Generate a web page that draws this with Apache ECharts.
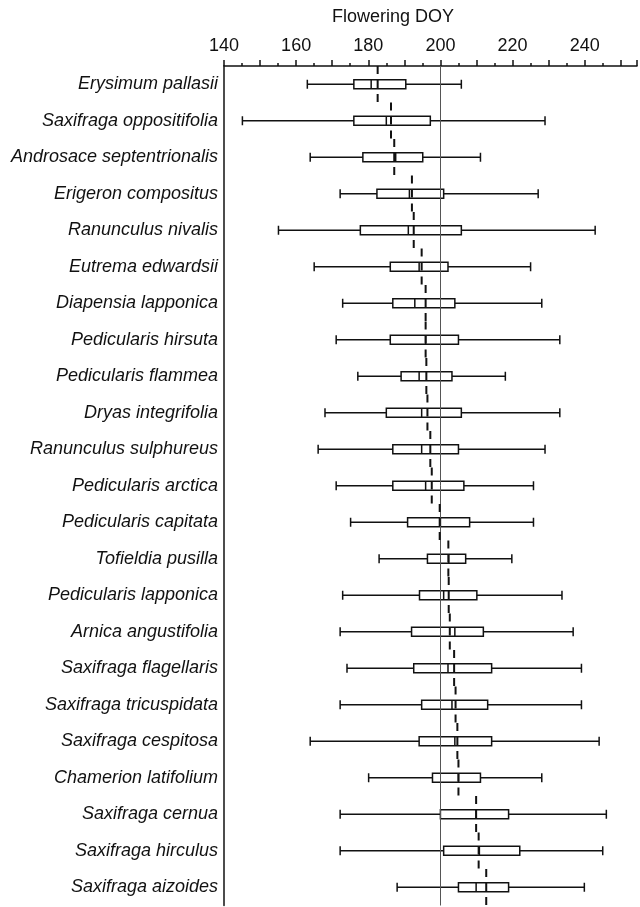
<!DOCTYPE html>
<html>
<head>
<meta charset="utf-8">
<script src="https://cdn.jsdelivr.net/npm/echarts@6/dist/echarts.min.js"></script>
<style>
html,body{margin:0;padding:0;background:#fff;}
#chart{width:640px;height:907px;}
</style>
</head>
<body>
<div id="chart"></div>
<script>
const categories = [
  'Erysimum pallasii','Saxifraga oppositifolia','Androsace septentrionalis','Erigeron compositus',
  'Ranunculus nivalis','Eutrema edwardsii','Diapensia lapponica','Pedicularis hirsuta',
  'Pedicularis flammea','Dryas integrifolia','Ranunculus sulphureus','Pedicularis arctica',
  'Pedicularis capitata','Tofieldia pusilla','Pedicularis lapponica','Arnica angustifolia',
  'Saxifraga flagellaris','Saxifraga tricuspidata','Saxifraga cespitosa','Chamerion latifolium',
  'Saxifraga cernua','Saxifraga hirculus','Saxifraga aizoides'
];
const whiskerLow  = [163.1,145.1,163.9,172.2,155.1,165.0,172.9,171.1,177.1,168.0,166.1,171.1,175.1,183.0,172.9,172.2,174.1,172.2,163.9,180.1,172.2,172.2,188.0];
const q1          = [176.0,176.0,178.5,182.4,177.8,186.1,186.8,186.1,189.1,185.0,186.8,186.8,190.9,196.4,194.2,192.0,192.6,194.8,194.1,197.8,200.0,200.9,205.0];
const median      = [180.8,185.0,187.6,191.4,191.1,194.1,192.9,195.9,194.1,194.8,194.8,195.9,200.0,202.3,200.9,204.0,202.1,203.2,204.0,205.0,209.9,210.8,209.9];
const q3          = [190.4,197.2,195.1,200.9,205.8,202.1,204.0,205.0,203.2,205.8,205.0,206.5,208.1,207.0,210.1,211.9,214.2,213.1,214.2,211.1,218.9,222.0,218.9];
const whiskerHigh = [205.8,229.0,211.1,227.1,242.9,225.0,228.1,233.1,218.0,233.1,229.0,225.8,225.8,219.8,233.7,236.8,239.1,239.1,244.0,228.1,246.0,245.0,239.9];
const meanDOY     = [182.6,186.3,187.2,192.1,192.6,194.8,195.9,195.9,196.1,196.4,197.2,197.6,199.8,202.2,202.3,202.6,203.8,204.2,204.7,205.0,209.9,210.6,212.7];
const xTickLabels = [140,160,180,200,220,240];
const refLine = 200;

const FONT = 'Liberation Sans, Arial, Helvetica, sans-serif';
const boxData = categories.map((c,i)=>[whiskerLow[i],q1[i],median[i],q3[i],whiskerHigh[i]]);
const meanData = categories.map((c,i)=>[meanDOY[i], i]);

const chart = echarts.init(document.getElementById('chart'), null, {renderer:'canvas'});
chart.setOption({
  backgroundColor:'#fff',
  animation:false,
  graphic:[{
    type:'text', x:393, y:17, z:10,
    style:{text:'Flowering DOY', fontSize:18, fontFamily:FONT, fill:'#111', align:'center', verticalAlign:'middle'}
  }],
  grid:{left:224, top:66, width:416, height:839.5, containLabel:false},
  xAxis:{
    type:'value', position:'top', min:140, max:254.5, interval:10,
    axisLine:{show:true, onZero:false, lineStyle:{color:'#111', width:1.5}},
    axisTick:{show:true, length:6, lineStyle:{color:'#111', width:1.5}},
    minorTick:{show:true, splitNumber:2, length:3, lineStyle:{color:'#111', width:1.5}},
    splitLine:{show:false},
    axisLabel:{
      margin:11, fontSize:18, fontFamily:FONT, color:'#111',
      formatter:(v)=> xTickLabels.indexOf(v) >= 0 ? String(v) : ''
    }
  },
  yAxis:{
    type:'category', data:categories, inverse:true,
    axisLine:{show:true, lineStyle:{color:'#111', width:1.5}},
    axisTick:{show:false},
    splitLine:{show:false},
    axisLabel:{margin:6, fontSize:18, fontStyle:'italic', fontFamily:FONT, color:'#111'}
  },
  series:[
    {
      type:'boxplot',
      data:boxData,
      boxWidth:[9,9],
      itemStyle:{color:'#fff', borderColor:'#111', borderWidth:1.5},
      z:2,
      markLine:{
        silent:true, symbol:['none','none'], label:{show:false},
        lineStyle:{color:'#555', width:1, type:'solid'},
        data:[{xAxis:refLine}],
        z:3
      }
    },
    {
      type:'custom',
      data:meanData,
      encode:{x:0, y:1},
      z:4,
      renderItem:function(params, api){
        const p = api.coord([api.value(0), api.value(1)]);
        const h = api.size([0,1])[1];
        return {
          type:'line',
          shape:{x1:p[0], y1:p[1]-h/2, x2:p[0], y2:p[1]+h/2},
          style:{stroke:'#111', lineWidth:2, lineDash:[8,6]}
        };
      }
    }
  ]
});
</script>
</body>
</html>
